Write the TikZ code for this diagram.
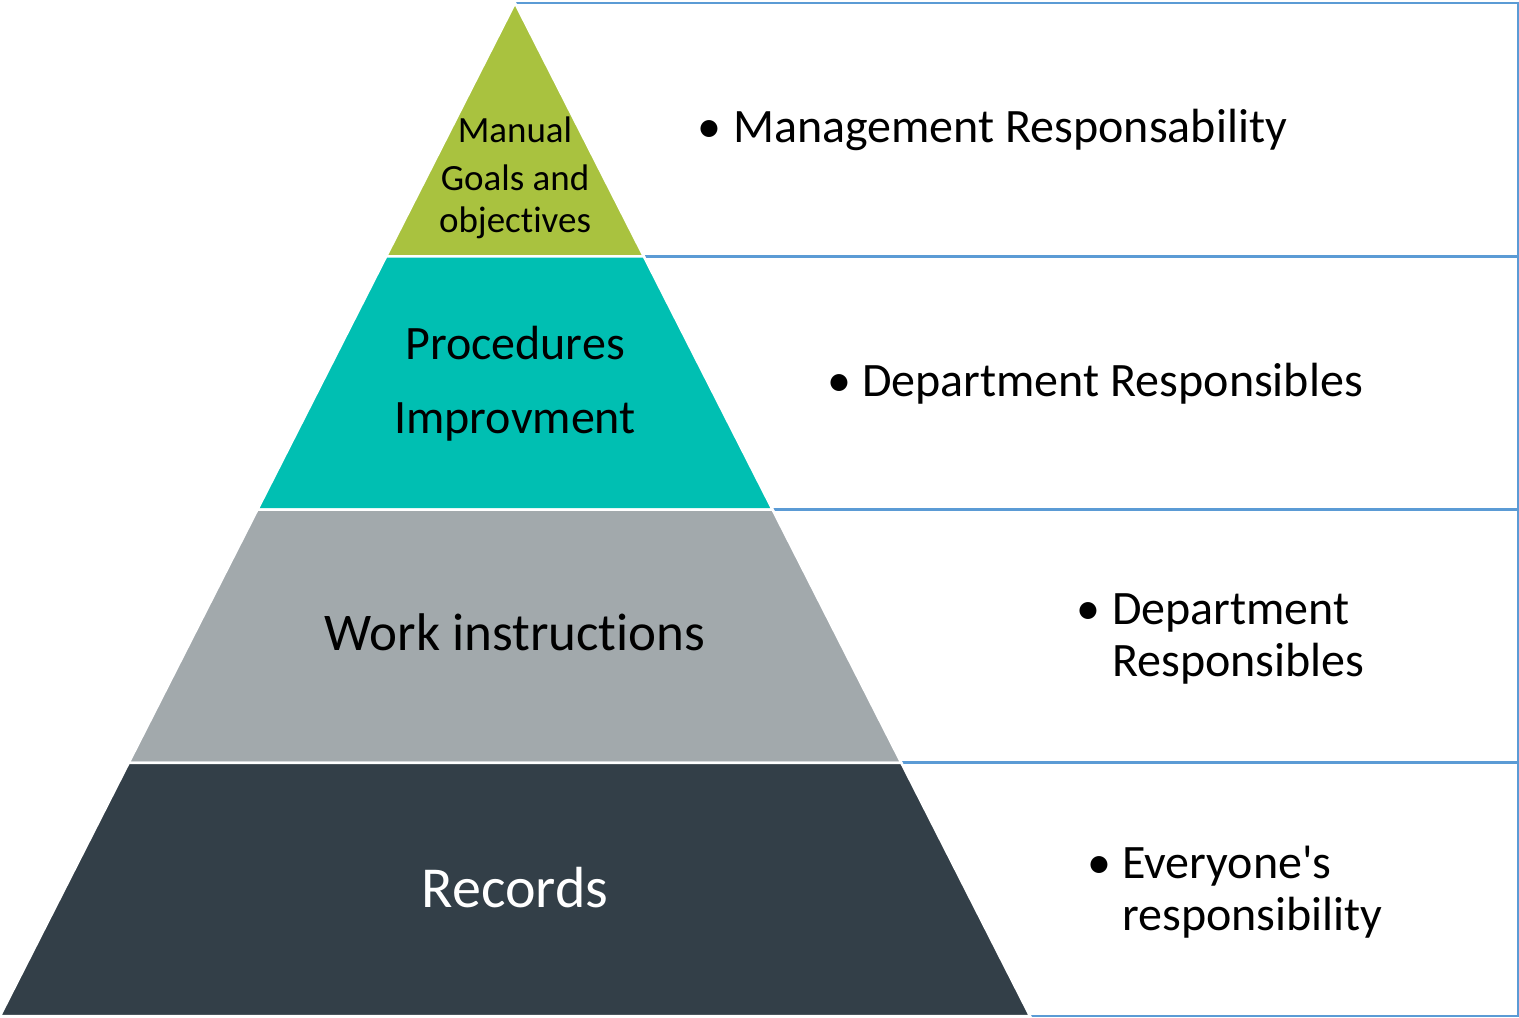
\documentclass[tikz,border=0pt]{standalone}
\usepackage{fontspec}
\setmainfont{Carlito}[Ligatures={TeX,NoCommon}]
\usetikzlibrary{calc}
\definecolor{manualgreen}{HTML}{A9C23F}
\definecolor{procteal}{HTML}{00BFB2}
\definecolor{workgray}{HTML}{A2A9AC}
\definecolor{recorddark}{HTML}{333F48}
\definecolor{boxblue}{HTML}{5B9BD5}
\definecolor{edgeblue}{HTML}{D2E3F3}
\tikzset{
	layer/.style = {
		draw=white,
		line width=2.5pt,
		line join=miter
	},
	resp_line/.style = {
		draw=boxblue,
		line width=2.8pt
	},
	layer_text/.style = {
		align=center,
		inner sep=0pt,
		anchor=base
	},
	resp_text/.style = {
		inner sep=0pt,
		anchor=base west,
		font=\fontsize{48}{52}\selectfont
	},
}

\begin{document}
\begin{tikzpicture}[x=1pt, y=-1pt]
\useasboundingbox (0,0) rectangle (1519,1018);
\coordinate (apex) at (515,3);
\coordinate (bl) at (0,1016);
\coordinate (br) at (1030,1016);
\coordinate (rtop) at (1518,3);
\coordinate (rbot) at (1518,1016);
\foreach \k in {1,2,3} {
	\coordinate (l\k) at ($(apex)!\k/4!(bl)$);
	\coordinate (r\k) at ($(apex)!\k/4!(br)$);
}
% boxes on the right
\draw [edgeblue, line width=1pt] (apex) -- (br);
\draw [resp_line] (apex) -- (apex -| rtop);
\draw [resp_line] (r1) -- (r1 -| rtop);
\draw [resp_line] (r2) -- (r2 -| rtop);
\draw [resp_line] (r3) -- (r3 -| rtop);
\draw [resp_line] (br) -- (rbot);
\draw [resp_line] ($(rtop)+(0,-1.4)$) -- ($(rbot)+(0,1.4)$);
% pyramid
\path [layer, fill=manualgreen] (apex) -- (r1) -- (l1) -- cycle;
\path [layer, fill=procteal] (l1) -- (r1) -- (r2) -- (l2) -- cycle;
\path [layer, fill=workgray] (l2) -- (r2) -- (r3) -- (l3) -- cycle;
\path [layer, fill=recorddark] (l3) -- (r3) -- (br) -- (bl) -- cycle;
% layer labels
\node [layer_text, font=\fontsize{37}{42}\selectfont] (manual) at (515,142) {Manual};
\node [layer_text, font=\fontsize{37}{42}\selectfont] (goals) at (515,190) {Goals and};
\node [layer_text, font=\fontsize{37}{42}\selectfont] (objectives) at (515,232) {objectives};
\node [layer_text, font=\fontsize{48}{68}\selectfont] (procedures) at (515,359) {Procedures};
\node [layer_text, font=\fontsize{48}{68}\selectfont] (improvment) at (515,433) {Improvment};
\node [layer_text, font=\fontsize{53}{64}\selectfont] (work) at (515,650) {Work instructions};
\node [layer_text, font=\fontsize{58}{64}\selectfont, white] (records) at (515,907) {Records};
% responsibilities
\node [resp_text] (mgmt) at (697,142)
	{\makebox[36pt][l]{\textbullet}Management Responsability};
\node [resp_text] (dept) at (827,396)
	{\makebox[35pt][l]{\textbullet}Department Responsibles};
\node [resp_text] (deptwork) at (1076,624)
	{\begin{tabular}[t]{@{}l@{}l@{}}\makebox[36pt][l]{\textbullet} & Department\\ & Responsibles\end{tabular}};
\node [resp_text] (everyone) at (1087,878)
	{\begin{tabular}[t]{@{}l@{}l@{}}\makebox[35pt][l]{\textbullet} & Everyone\textquotesingle s\\ & responsibility\end{tabular}};
\end{tikzpicture}
\end{document}
